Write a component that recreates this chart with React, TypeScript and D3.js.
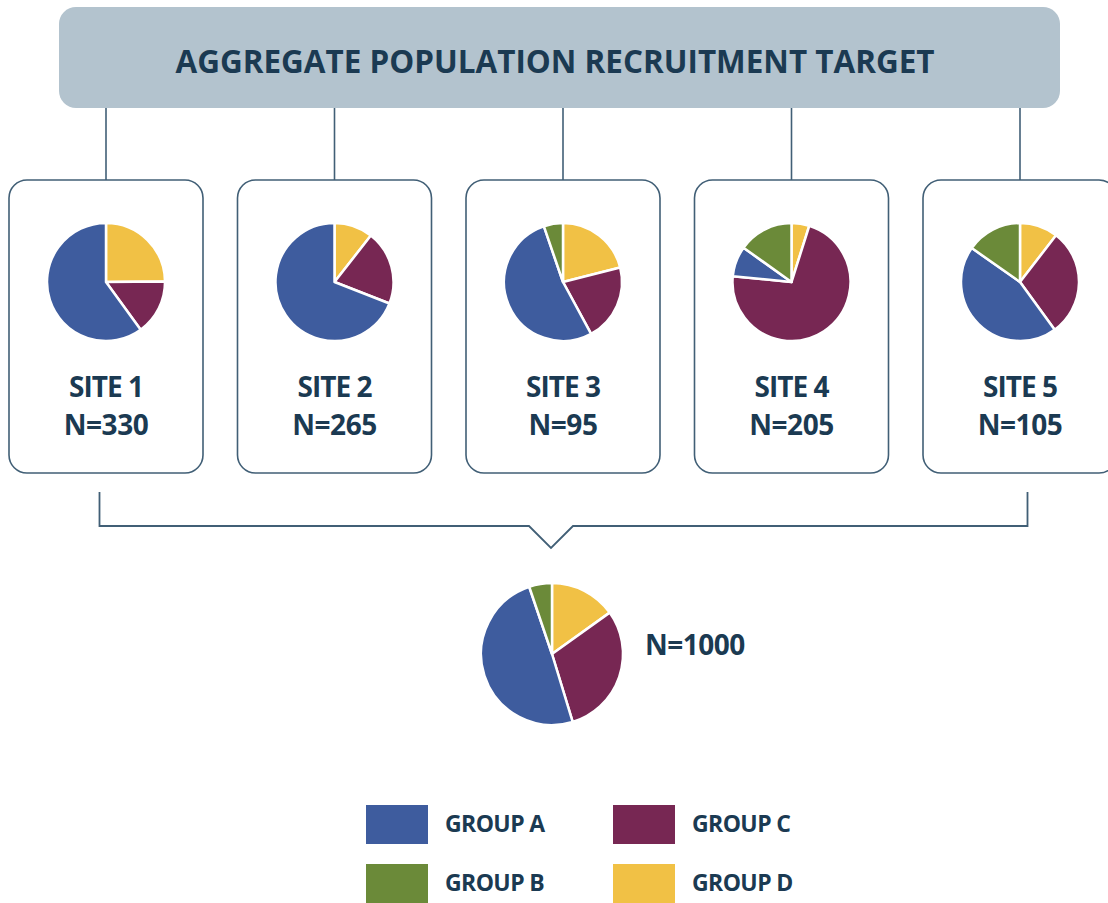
import React from 'react';
import * as d3 from 'd3';

const title = 'AGGREGATE POPULATION RECRUITMENT TARGET';
const groupNames = ['GROUP A', 'GROUP B', 'GROUP C', 'GROUP D'];
const groupColors = ['#3e5c9e', '#6b8a39', '#772753', '#f1c145'];
const siteNames = ['SITE 1', 'SITE 2', 'SITE 3', 'SITE 4', 'SITE 5'];
const siteTotals = [330, 265, 95, 205, 105];
const groupA = [198, 183, 50, 17, 47];
const groupB = [0, 0, 5, 31, 16];
const groupC = [50, 54, 20, 147, 31];
const groupD = [82, 28, 20, 10, 11];
const overallTotal = 1000;

const W = 1108;
const H = 903;
const TEXT = '#1b3a52';
const LINE = '#415f76';
const FONT = "'Open Sans', 'Noto Sans', sans-serif";

// clockwise order from 12 o'clock: D, C, A, B
const sliceOrder = [3, 2, 0, 1];

function siteValues(i: number) {
  return [groupA[i], groupB[i], groupC[i], groupD[i]];
}

function Pie({ cx, cy, r, values }: { cx: number; cy: number; r: number; values: number[] }) {
  const items = sliceOrder.map((g) => ({ g, v: values[g] }));
  const arcs = d3.pie<{ g: number; v: number }>().sort(null).value((d) => d.v)(items);
  const arc = d3.arc<d3.PieArcDatum<{ g: number; v: number }>>().innerRadius(0).outerRadius(r);
  return (
    <g transform={`translate(${cx},${cy})`}>
      {arcs.filter((a) => a.data.v > 0).map((a) => (
        <path key={a.data.g} d={arc(a) || ''} fill={groupColors[a.data.g]} stroke="#fff" strokeWidth={2.5} strokeLinejoin="round" />
      ))}
    </g>
  );
}

export default function App() {
  const x = d3.scaleLinear().domain([0, siteNames.length - 1]).range([106, 1020]);
  const boxW = 194;
  const boxTop = 180;
  const boxBottom = 473;
  const pieY = 282;
  const pieR = 59;

  const totals = [d3.sum(groupA), d3.sum(groupB), d3.sum(groupC), d3.sum(groupD)];

  const bracketY = 526;
  const bx0 = 99.5;
  const bx1 = 1027.5;
  const midX = 551;

  const legendPos = [
    { x: 366, y: 805 },
    { x: 366, y: 864 },
    { x: 613, y: 805 },
    { x: 613, y: 864 },
  ];

  return (
    <svg width={W} height={H} style={{ position: 'absolute', left: 0, top: 0, background: '#fff' }} fontFamily={FONT}>
      {/* banner */}
      <rect x={59} y={7} width={1001} height={101} rx={17} fill="#b3c3ce" />
      <text x={555} y={73} textAnchor="middle" fontSize={32} fontWeight={700} fill={TEXT} textLength={759} lengthAdjust="spacingAndGlyphs">
        {title}
      </text>

      {/* connectors and site boxes */}
      {siteNames.map((name, i) => {
        const cx = x(i);
        return (
          <g key={name}>
            <line x1={cx} x2={cx} y1={108} y2={boxTop} stroke={LINE} strokeWidth={1.6} />
            <rect x={cx - boxW / 2} y={boxTop} width={boxW} height={boxBottom - boxTop} rx={18} fill="#fff" stroke={LINE} strokeWidth={1.6} />
            <Pie cx={cx} cy={pieY} r={pieR} values={siteValues(i)} />
            <text x={cx} y={397} textAnchor="middle" fontSize={28} fontWeight={700} fill={TEXT} letterSpacing={-1}>
              {name}
            </text>
            <text x={cx} y={435} textAnchor="middle" fontSize={28} fontWeight={700} fill={TEXT} letterSpacing={-0.5}>
              {`N=${siteTotals[i]}`}
            </text>
          </g>
        );
      })}

      {/* bracket */}
      <path
        d={`M${bx0},492 V${bracketY} H${midX - 22} L${midX},${bracketY + 22} L${midX + 22},${bracketY} H${bx1} V492`}
        fill="none"
        stroke={LINE}
        strokeWidth={1.8}
      />

      {/* aggregate pie */}
      <Pie cx={552} cy={654} r={71} values={totals} />
      <text x={645} y={655} fontSize={28} fontWeight={700} fill={TEXT} letterSpacing={-0.5}>
        {`N=${overallTotal}`}
      </text>

      {/* legend */}
      {groupNames.map((g, i) => (
        <g key={g}>
          <rect x={legendPos[i].x} y={legendPos[i].y} width={62} height={39} fill={groupColors[i]} />
          <text x={legendPos[i].x + 79} y={legendPos[i].y + 27} fontSize={23} fontWeight={700} fill={TEXT} letterSpacing={-0.6}>
            {g}
          </text>
        </g>
      ))}
    </svg>
  );
}
